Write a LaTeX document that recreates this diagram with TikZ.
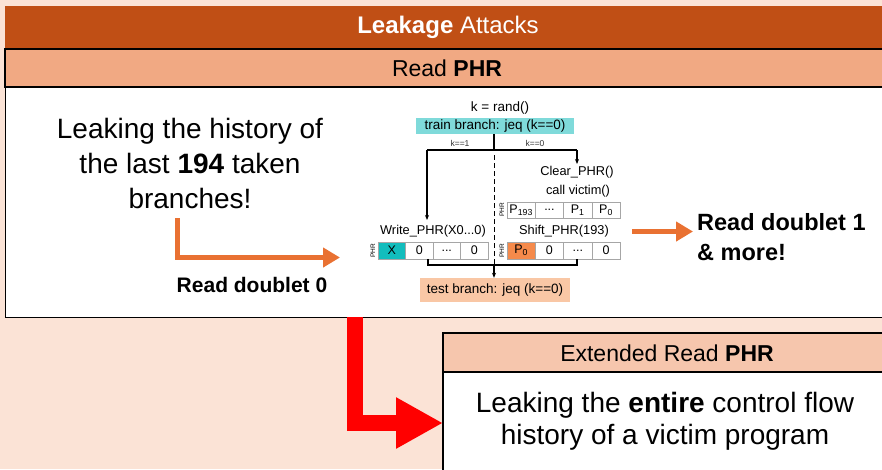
\documentclass[tikz,border=0pt]{standalone}
\usepackage{fontspec}
\setmainfont{Liberation Sans}
\usetikzlibrary{arrows.meta}
\definecolor{bgpeach}{HTML}{FBE3D6}
\definecolor{darkor}{HTML}{C04F15}
\definecolor{midor}{HTML}{F1A983}
\definecolor{lightor}{HTML}{F6C6AD}
\definecolor{accor}{HTML}{E97132}
\definecolor{trainc}{HTML}{7FDADA}
\definecolor{testc}{HTML}{F9C7A5}
\definecolor{tealc}{HTML}{12BDBD}
\definecolor{pzeroc}{HTML}{F58A4B}
\newcommand{\fsz}[2]{\fontsize{#1}{#2}\selectfont}
\begin{document}
\begin{tikzpicture}[x=1pt,y=-1pt,
  cell/.style={draw=gray!70, fill=white, minimum width=28.3pt, minimum height=16.5pt, inner sep=0pt, font=\fsz{12.5}{14}},
  phrlab/.style={rotate=90, inner sep=0pt, font=\fsz{6.5}{7}},
  small/.style={inner sep=0pt, font=\fsz{12.8}{14}},
  conn/.style={line width=1.1pt, black},
  tip/.style={-{Stealth[length=5pt,width=4pt]}},
  orarrow/.style={accor, line width=5pt, -{Triangle[length=17pt,width=19pt]}},
  bigtext/.style={align=center, inner sep=0pt}]
\fill[bgpeach] (0,0) rectangle (882,469);
\useasboundingbox (0,0) rectangle (882,469);
\clip (0,0) rectangle (882,469);

% top panel
\fill[darkor] (5,6) rectangle (890,49);
\node[text=white, font=\fsz{24}{26}] (title) at (448,27) {\textbf{Leakage} Attacks};
\draw[line width=1.5pt, fill=midor] (5,49) rectangle (890,87);
\node[font=\fsz{23}{26}] (readphr) at (447,68) {Read \textbf{PHR}};
\draw[line width=1pt, fill=white] (5,87) rectangle (890,317);
\coordinate (wbbottom) at (355,317);

% left text
\node[bigtext, font=\fsz{28}{35}] (lefttxt) at (190,163) {Leaking the history of\\the last \textbf{194} taken\\branches!};
\coordinate (la) at (177,218);
\coordinate (lb) at (340,257.5);
\draw[orarrow] (la) |- (lb);
\node[font=\bfseries\fsz{21}{24}, inner sep=0pt] (rd0) at (252,285) {Read doublet 0};

% right text
\coordinate (ra) at (632,231.5);
\coordinate (rb) at (693,231.5);
\draw[orarrow] (ra) -- (rb);
\node[font=\bfseries\fsz{23.5}{30}, align=left, anchor=west, inner sep=0pt] (rd1) at (697,237) {Read doublet 1\\\& more!};

% central diagram
\node[small, font=\fsz{13.5}{15}] (krand) at (500,108) {k = rand()};
\node[fill=trainc, minimum width=158pt, minimum height=16.5pt, inner sep=0pt, font=\fsz{13.5}{15}] (train) at (495,126) {train branch: jeq (k==0)};
\coordinate (fm) at (494,150);
\coordinate (fl) at (427,150);
\coordinate (fr) at (577,150);
\draw[conn] (train.south -| fm) -- (fm);
\draw[conn] (fl) -- (fr);
\node[inner sep=0pt, font=\fsz{8.5}{9}, text=black!80] (k1) at (460,143) {k==1};
\node[inner sep=0pt, font=\fsz{8.5}{9}, text=black!80] (k0) at (535,143) {k==0};

\node[small] (clr) at (577,172) {Clear\_PHR()};
\node[small] (cv) at (578,191) {call victim()};
\draw[conn, tip] (fr) -- (577,164);

% row 1
\node[cell] (a1) at (521.15,210) {P\textsubscript{193}};
\node[cell] (a2) at (549.45,210) {...};
\node[cell] (a3) at (577.75,210) {P\textsubscript{1}};
\node[cell] (a4) at (606.05,210) {P\textsubscript{0}};
\node[phrlab] (pa) at (502,210) {PHR};

% labels row 2
\node[small] (wlab) at (433,231) {Write\_PHR(X0...0)};
\node[small] (slab) at (564,231) {Shift\_PHR(193)};
\draw[conn, tip] (fl) -- (427,220);

% row 2 left
\node[cell, fill=tealc, minimum width=27.5pt] (b1) at (391.75,250.5) {X};
\node[cell, minimum width=27.5pt] (b2) at (419.25,250.5) {0};
\node[cell, minimum width=27.5pt] (b3) at (446.75,250.5) {...};
\node[cell, minimum width=27.5pt] (b4) at (474.25,250.5) {0};
\node[phrlab] (pb) at (373,250.5) {PHR};

% row 2 right
\node[cell, fill=pzeroc] (c1) at (521.15,250.5) {P\textsubscript{0}};
\node[cell] (c2) at (549.45,250.5) {0};
\node[cell] (c3) at (577.75,250.5) {...};
\node[cell] (c4) at (606.05,250.5) {0};
\node[phrlab] (pc) at (502,250.5) {PHR};

% bracket and test
\coordinate (bl) at (428,265);
\coordinate (bm) at (494,265);
\coordinate (br) at (577,265);
\draw[conn] (bl |- b2.south) -- (bl) -- (br) -- (br |- c3.south);
\node[fill=testc, minimum width=150pt, minimum height=24pt, inner sep=0pt, font=\fsz{13.5}{15}] (test) at (495,290) {test branch: jeq (k==0)};
\draw[conn, tip] (bm) -- (test.north -| bm);
\draw[line width=1pt, dash pattern=on 5pt off 3pt] (494,155) -- (bm);

% extended box
\draw[line width=1.5pt, fill=lightor] (443,333) rectangle (890,372);
\node[font=\fsz{23}{26}] (exthdr) at (667,353) {Extended Read \textbf{PHR}};
\draw[line width=1.5pt, fill=white] (443,372) rectangle (890,490);
\node[bigtext, font=\fsz{28}{32}] (exttxt) at (665,421) {Leaking the \textbf{entire} control flow\\history of a victim program};
\coordinate (extin) at (443,423);

% red arrow
\draw[red, line width=16pt, -{Triangle[length=47pt,width=48pt]}] (wbbottom) |- (extin);
\end{tikzpicture}
\end{document}
